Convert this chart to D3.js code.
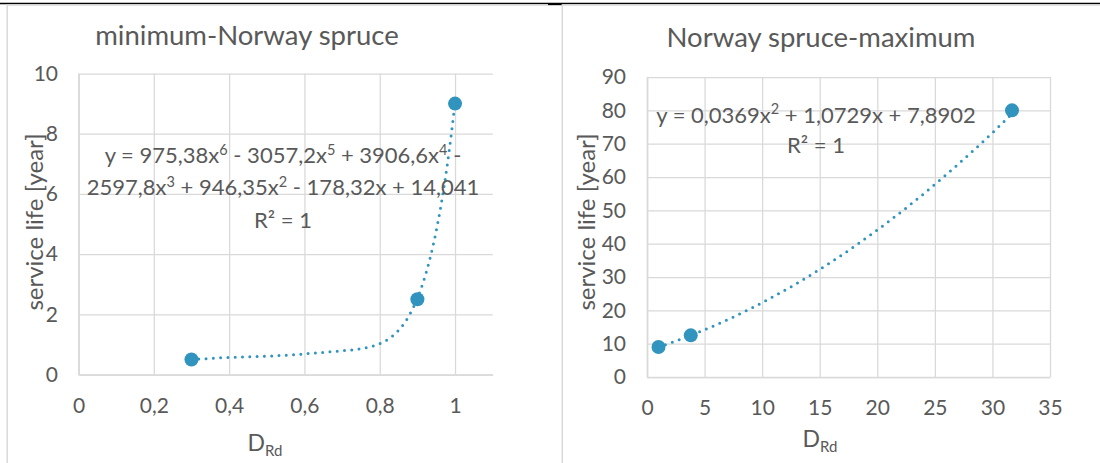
<!DOCTYPE html>
<html>
<head>
<meta charset="utf-8">
<script src="https://cdn.jsdelivr.net/npm/d3@7"></script>
<style>
body { margin: 0; background: #fff; }
text { font-family: Lato, "Open Sans", sans-serif; fill: #595959; }
</style>
</head>
<body>
<svg id="chart" width="1100" height="463"></svg>
<script>
// left chart: minimum-Norway spruce
var minX = [0.3, 0.9, 1];
var minY = [0.5, 2.5, 9];
var minTrend = [975.38, -3057.2, 3906.6, -2597.8, 946.35, -178.32, 14.041]; // x^6 ... x^0
var minXTicks = [0, 0.2, 0.4, 0.6, 0.8, 1];
var minYTicks = [0, 2, 4, 6, 8, 10];
var minEquation = ["y = 975,38x^6 - 3057,2x^5 + 3906,6x^4 -", "2597,8x^3 + 946,35x^2 - 178,32x + 14,041", "R² = 1"];

// right chart: Norway spruce-maximum
var maxX = [1, 3.8, 31.7];
var maxY = [9, 12.5, 80];
var maxTrend = [0.0369, 1.0729, 7.8902]; // x^2, x, 1
var maxXTicks = [0, 5, 10, 15, 20, 25, 30, 35];
var maxYTicks = [0, 10, 20, 30, 40, 50, 60, 70, 80, 90];
var maxEquation = ["y = 0,0369x^2 + 1,0729x + 7,8902", "R² = 1"];

var blue = "#3194bf";
var grid = "#d9d9d9";
var svg = d3.select("#chart");
var fmt = d3.formatLocale({decimal: ",", thousands: ".", grouping: [3], currency: ["", ""]}).format("~g");

// frame lines
svg.append("line").attr("x1", 0).attr("x2", 1100).attr("y1", 3.5).attr("y2", 3.5)
    .attr("stroke", "#000").attr("stroke-width", 1.3);
svg.append("rect").attr("x", 548).attr("y", 3).attr("width", 14).attr("height", 2.2).attr("fill", "#000");
[[7.2, 548], [562.3, 1100]].forEach(function(b) {
    svg.append("path")
        .attr("d", "M" + b[0] + ",463V5H" + b[1])
        .attr("fill", "none").attr("stroke", grid).attr("stroke-width", 1.5);
});

function polyAt(coef, x) {
    return coef.reduce(function(acc, c) { return acc * x + c; }, 0);
}

function writeEquation(g, lines, cx, baselines) {
    lines.forEach(function(line, i) {
        var t = g.append("text")
            .attr("x", cx).attr("y", baselines[i])
            .attr("text-anchor", "middle")
            .attr("font-size", 22);
        var parts = line.split(/\^(\d)/);
        var shifted = false;
        parts.forEach(function(p, j) {
            if (!p) return;
            var sp = t.append("tspan").text(p);
            if (j % 2 == 1) {
                sp.attr("font-size", 14.5).attr("dy", -8.5);
                shifted = true;
            } else if (shifted) {
                sp.attr("dy", 8.5);
                shifted = false;
            }
        });
    });
}

function drawChart(c) {
    var x = d3.scaleLinear().domain(c.xDomain).range(c.xRange);
    var y = d3.scaleLinear().domain(c.yDomain).range(c.yRange);
    var g = svg.append("g");

    var xAxis = g.append("g")
        .attr("transform", "translate(0," + c.yRange[0] + ")")
        .call(d3.axisBottom(x).tickValues(c.xTicks).tickFormat(fmt)
            .tickSizeInner(-(c.yRange[0] - c.yRange[1])).tickSizeOuter(0).tickPadding(c.xPad));
    var yAxis = g.append("g")
        .attr("transform", "translate(" + c.xRange[0] + ",0)")
        .call(d3.axisLeft(y).tickValues(c.yTicks).tickFormat(fmt)
            .tickSizeInner(-(c.xRange[1] - c.xRange[0])).tickSizeOuter(0).tickPadding(c.yPad));

    [xAxis, yAxis].forEach(function(a) {
        a.attr("font-family", null).attr("font-size", 21);
        a.selectAll(".tick line").attr("stroke", grid).attr("stroke-width", 1.25);
        a.select(".domain").attr("stroke", grid).attr("stroke-width", 1.6);
        a.selectAll("text").attr("fill", null);
    });

    // trendline, drawn over the data range from the printed equation
    var xs = d3.range(c.x[0], c.x[c.x.length - 1], (c.x[c.x.length - 1] - c.x[0]) / 200).concat([c.x[c.x.length - 1]]);
    g.append("path")
        .datum(xs)
        .attr("d", d3.line().x(function(d) { return x(d); }).y(function(d) { return y(polyAt(c.trend, d)); }))
        .attr("fill", "none")
        .attr("stroke", blue)
        .attr("stroke-width", 3)
        .attr("stroke-linecap", "round")
        .attr("stroke-dasharray", "0 7.3");

    g.selectAll("circle.pt")
        .data(c.x)
        .enter().append("circle")
        .attr("class", "pt")
        .attr("cx", function(d) { return x(d); })
        .attr("cy", function(d, i) { return y(c.y[i]); })
        .attr("r", 7)
        .attr("fill", blue);

    g.append("text")
        .attr("x", c.titlePos[0]).attr("y", c.titlePos[1])
        .attr("text-anchor", "middle")
        .attr("font-size", 27.5)
        .text(c.title);

    var xt = g.append("text")
        .attr("x", c.xTitlePos[0]).attr("y", c.xTitlePos[1])
        .attr("text-anchor", "middle")
        .attr("font-size", 23);
    xt.append("tspan").text("D");
    xt.append("tspan").attr("font-size", 15).attr("dy", 5).text("Rd");

    g.append("text")
        .attr("transform", "translate(" + c.yTitlePos[0] + "," + c.yTitlePos[1] + ") rotate(-90)")
        .attr("text-anchor", "middle")
        .attr("font-size", 24)
        .text("service life [year]");

    writeEquation(g, c.equation, c.eqX, c.eqY);
}

drawChart({
    x: minX, y: minY, trend: minTrend,
    xDomain: [0, 1.1], xRange: [78.5, 492.7],
    yDomain: [0, 10], yRange: [374.5, 73.5],
    xTicks: minXTicks, yTicks: minYTicks, xPad: 24, yPad: 20.5,
    title: "minimum-Norway spruce", titlePos: [247, 45],
    xTitlePos: [265, 451], yTitlePos: [43, 222],
    equation: minEquation, eqX: 283, eqY: [163.3, 195, 228]
});

drawChart({
    x: maxX, y: maxY, trend: maxTrend,
    xDomain: [0, 35], xRange: [647, 1050],
    yDomain: [0, 90], yRange: [377, 77],
    xTicks: maxXTicks, yTicks: maxYTicks, xPad: 23, yPad: 21,
    title: "Norway spruce-maximum", titlePos: [821, 46.5],
    xTitlePos: [820, 447], yTitlePos: [595, 222],
    equation: maxEquation, eqX: 816, eqY: [122.5, 153.3]
});
</script>
</body>
</html>
